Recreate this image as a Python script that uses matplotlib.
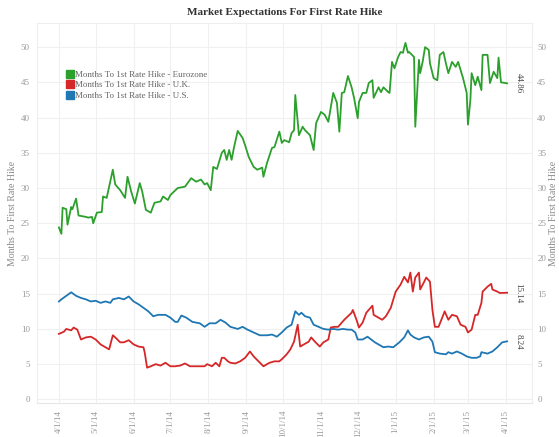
import pandas as pd
import numpy as np
import matplotlib.pyplot as plt
import matplotlib.dates as mdates
from matplotlib.lines import Line2D

# days since 4/1/14
start = pd.Timestamp('2014-04-01')

eu_days = [0, 2, 3, 6, 7, 10, 11, 14, 16, 22, 24, 27, 28, 31, 35, 36, 39, 44, 46, 50,
           54, 56, 59, 62, 66, 68, 71, 75, 78, 83, 85, 89, 91, 97, 103, 108, 112, 116, 119, 121,
           124, 126, 129, 133, 135, 137, 139, 141, 143, 146, 150, 152, 155, 159, 162, 166, 167, 170, 174, 176,
           180, 182, 184, 188, 190, 192, 193, 196, 199, 201, 205, 208, 210, 214, 217, 220, 224, 227, 229, 231,
           233, 236, 239, 241, 244, 245, 248, 251, 253, 256, 257, 261, 263, 265, 269, 270, 272, 274, 277, 279,
           281, 282, 283, 285, 286, 290, 291, 294, 295, 297, 299, 302, 303, 306, 309, 311, 314, 316, 318, 321,
           324, 326, 330, 333, 334, 336, 337, 340, 342, 345, 346, 350, 352, 355, 358, 359, 361, 366]
eu_vals = [24.4, 23.5, 27.2, 27.0, 24.8, 27.3, 27.0, 28.5, 26.1, 25.9, 25.8, 25.9, 25.0, 26.5, 26.6, 28.8, 28.6, 32.6, 30.5, 29.7,
           28.6, 31.6, 29.5, 27.8, 30.7, 29.5, 26.9, 26.5, 27.9, 28.1, 28.8, 28.3, 29.0, 30.0, 30.2, 31.4, 30.9, 31.2, 30.5, 30.7,
           29.7, 33.0, 32.7, 35.0, 35.4, 34.0, 35.4, 34.0, 35.8, 38.1, 37.1, 36.1, 34.4, 33.0, 32.6, 32.9, 31.6, 33.6, 35.7, 35.8,
           38.0, 36.4, 36.8, 36.5, 37.8, 38.2, 43.2, 37.5, 38.7, 38.2, 37.5, 35.4, 39.2, 40.8, 40.4, 39.4, 43.5, 42.1, 38.0, 43.5,
           43.6, 45.9, 44.3, 42.8, 39.9, 42.2, 43.5, 43.5, 44.9, 45.3, 42.8, 44.3, 43.6, 44.3, 43.6, 43.5, 47.9, 47.0, 48.6, 49.3,
           49.2, 50.0, 50.6, 49.2, 49.3, 48.6, 38.7, 48.2, 46.3, 47.9, 50.0, 49.6, 47.7, 45.6, 45.3, 48.9, 49.3, 47.7, 46.3, 47.9,
           47.2, 47.9, 45.6, 43.5, 39.0, 42.5, 46.3, 44.6, 45.8, 43.9, 48.9, 48.9, 44.9, 46.5, 45.6, 48.5, 45.0, 44.86]

uk_days = [0, 4, 6, 10, 12, 15, 18, 22, 26, 30, 34, 38, 41, 44, 46, 50, 53, 57, 61, 65,
           69, 70, 72, 75, 79, 83, 87, 91, 95, 99, 103, 107, 111, 115, 119, 121, 125, 128, 131, 133,
           135, 138, 140, 144, 148, 152, 156, 159, 163, 167, 172, 176, 180, 182, 186, 189, 192, 195, 197, 200,
           204, 206, 209, 213, 216, 220, 222, 225, 228, 231, 233, 236, 239, 240, 243, 245, 248, 251, 253, 256,
           257, 261, 264, 267, 271, 275, 279, 282, 285, 287, 289, 291, 294, 295, 298, 300, 303, 305, 307, 310,
           313, 315, 318, 321, 325, 328, 332, 334, 337, 340, 342, 345, 346, 350, 353, 354, 358, 360, 366]
uk_vals = [9.3, 9.6, 10.0, 9.8, 10.2, 9.9, 8.5, 8.8, 8.9, 8.5, 7.8, 7.4, 7.1, 9.1, 8.8, 8.1, 8.1, 8.4, 7.8, 7.5,
           7.4, 6.7, 4.5, 4.7, 5.0, 4.8, 5.2, 4.7, 4.7, 4.8, 5.1, 4.7, 4.7, 4.7, 4.7, 5.0, 4.7, 5.2, 4.7, 5.9,
           5.9, 5.4, 5.2, 5.1, 5.4, 5.9, 6.8, 6.1, 5.4, 4.7, 5.2, 5.4, 5.4, 5.7, 6.4, 7.1, 8.2, 10.6, 7.5, 7.8,
           8.2, 8.8, 8.2, 7.5, 8.1, 8.5, 10.2, 10.3, 10.3, 10.9, 11.3, 11.8, 12.3, 12.7, 11.3, 10.2, 10.9, 12.3, 12.7, 13.3,
           12.0, 11.6, 11.3, 11.8, 13.0, 15.3, 16.3, 17.4, 16.6, 18.0, 15.3, 17.3, 18.0, 15.6, 16.6, 17.3, 16.7, 12.7, 10.3, 10.3,
           11.6, 12.5, 11.3, 12.0, 11.8, 10.6, 10.3, 9.5, 9.9, 12.0, 12.0, 13.7, 15.3, 16.0, 16.4, 15.6, 15.3, 15.1, 15.14]

us_days = [0, 2, 6, 10, 14, 18, 22, 26, 30, 34, 38, 42, 44, 49, 53, 57, 61, 65, 69, 73,
           77, 81, 87, 91, 95, 97, 100, 104, 109, 115, 119, 123, 128, 132, 136, 140, 146, 150, 154, 159,
           164, 170, 174, 178, 182, 186, 190, 193, 196, 198, 201, 205, 208, 212, 216, 220, 224, 228, 232, 236,
           239, 242, 244, 248, 252, 255, 258, 261, 265, 269, 273, 278, 282, 285, 287, 290, 294, 298, 302, 305,
           307, 311, 316, 318, 321, 325, 329, 333, 337, 341, 344, 345, 350, 354, 358, 362, 366]
us_vals = [13.9, 14.2, 14.7, 15.2, 14.7, 14.4, 14.2, 13.9, 14.0, 13.7, 13.9, 13.7, 14.2, 14.4, 14.2, 14.6, 13.9, 13.5, 13.0, 12.5,
           11.8, 12.0, 12.0, 11.6, 11.0, 11.0, 11.9, 11.6, 11.0, 10.8, 10.3, 10.8, 10.8, 11.3, 10.9, 10.3, 10.0, 10.3, 9.9, 9.5,
           9.1, 9.1, 9.2, 8.9, 9.5, 10.2, 10.6, 12.5, 12.0, 12.3, 11.8, 11.6, 10.6, 10.3, 10.0, 9.9, 10.0, 9.9, 10.0, 9.9,
           9.9, 9.5, 8.5, 8.5, 8.9, 8.5, 8.1, 7.8, 7.4, 7.5, 7.4, 8.1, 8.8, 9.8, 9.2, 8.8, 8.5, 8.8, 8.9, 8.2,
           6.7, 6.5, 6.4, 6.7, 6.5, 6.8, 6.5, 6.1, 5.9, 5.9, 6.1, 6.7, 6.5, 6.8, 7.4, 8.1, 8.24]

series = [
    ('Months To 1st Rate Hike - Eurozone', eu_days, eu_vals, '#2ca02c'),
    ('Months To 1st Rate Hike - U.K.', uk_days, uk_vals, '#d62728'),
    ('Months To 1st Rate Hike - U.S.', us_days, us_vals, '#1f77b4'),
]

plt.rcParams['font.family'] = ['Liberation Serif', 'DejaVu Serif']

fig = plt.figure(figsize=(5.59, 4.37), dpi=100)
ax = fig.add_axes([0.066, 0.078, 0.885, 0.869])

handles = []
for name, d, v, c in series:
    x = start + pd.to_timedelta(d, unit='D')
    ax.plot(x, v, color=c, lw=1.3)
    ax.text(x[-1] + pd.Timedelta(days=6), v[-1], f'{v[-1]:.2f}', rotation=270,
            va='center', ha='left', fontsize=6.5, color='#444444')
    handles.append(Line2D([], [], marker='s', ls='none', color=c, markersize=6, label=name))

ax.set_xlim(start - pd.Timedelta(days=18), start + pd.Timedelta(days=386))
ax.set_ylim(-0.5, 53.4)
ax.set_yticks(range(0, 51, 5))
ticks = pd.date_range('2014-04-01', '2015-04-01', freq='MS')
ax.set_xticks(ticks)
ax.set_xticklabels([f'{t.month}/1/{t.strftime("%y")}' for t in ticks], rotation=90)

ax.grid(True, color='#f0f0f0', lw=0.8)
ax.set_axisbelow(True)
for s in ['top', 'right', 'left']:
    ax.spines[s].set_color('#eeeeee')
ax.spines['bottom'].set_color('#e6e6e6')
ax.tick_params(length=0, labelsize=6.5, colors='#999999', pad=5)

ax.set_ylabel('Months To First Rate Hike', fontsize=7, color='#888888', labelpad=3)
ax2 = ax.twinx()
ax2.set_ylim(ax.get_ylim())
ax2.set_yticks(range(0, 51, 5))
ax2.tick_params(length=0, labelsize=6.5, colors='#999999', pad=4)
for s in ax2.spines.values():
    s.set_visible(False)
ax2.set_ylabel('Months To First Rate Hike', fontsize=7, color='#888888', rotation=90, labelpad=2)

ax.set_title('Market Expectations For First Rate Hike', fontsize=8, fontweight='bold',
             color='#333333', pad=6)

leg = ax.legend(handles=handles, loc='upper left', bbox_to_anchor=(0.05, 0.885), frameon=False,
                fontsize=6.5, handletextpad=0.1, labelspacing=0.25, borderaxespad=0, handlelength=1)
for t in leg.get_texts():
    t.set_color('#666666')

fig.savefig('out.png', dpi=100, facecolor='white')
